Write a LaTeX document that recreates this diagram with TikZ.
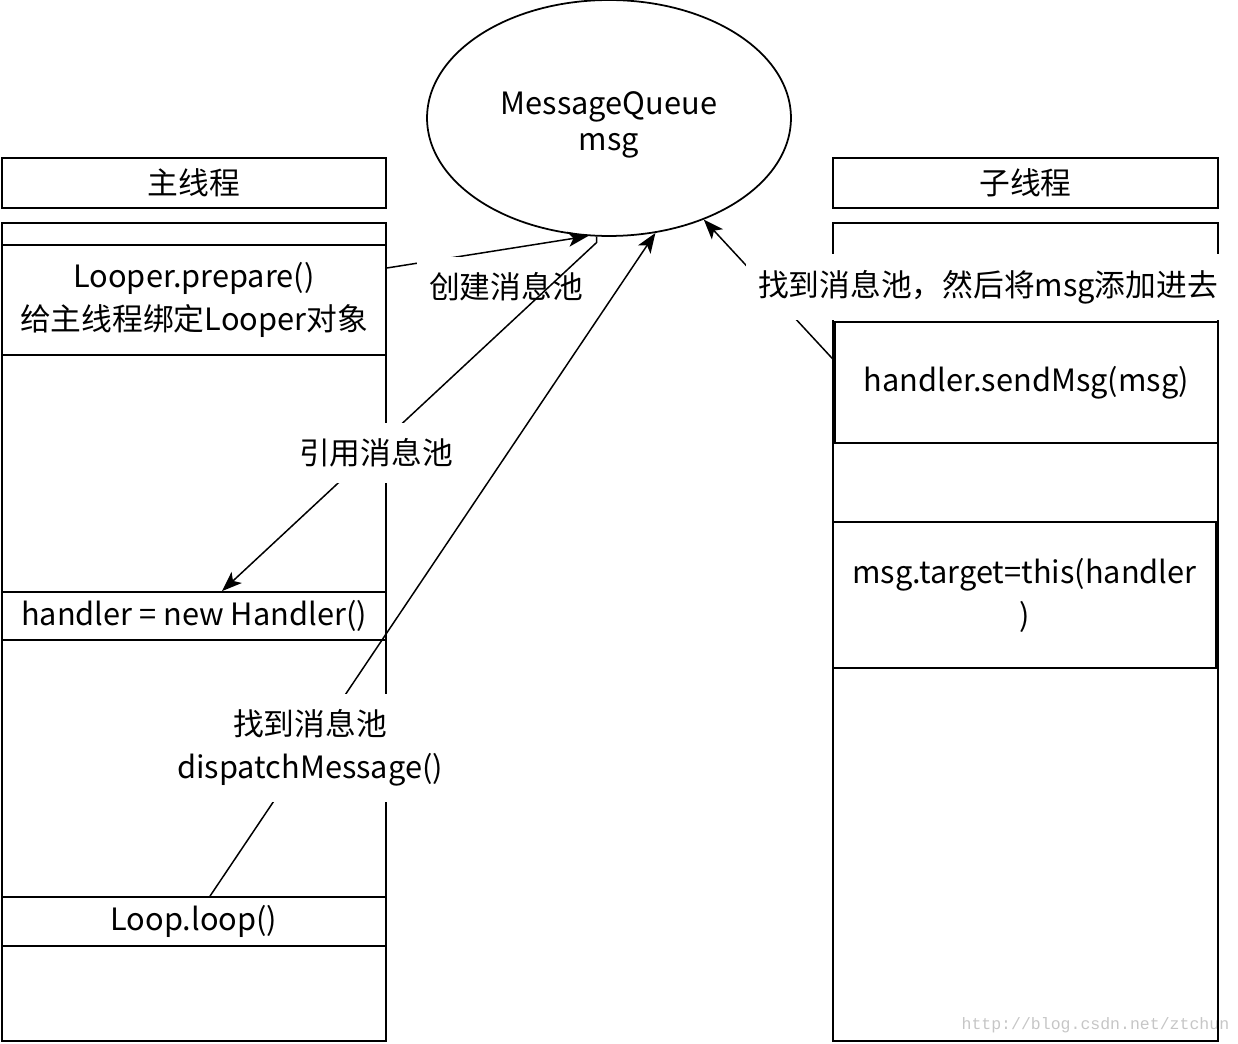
\documentclass[tikz,border=0pt]{standalone}
\usepackage{fontspec}
\setmainfont{Noto Sans CJK SC}
\newfontfamily\urlfont{Liberation Mono}
\usetikzlibrary{shapes.geometric,arrows.meta,positioning}
\tikzset{col box/.style={rectangle,draw,line width=1pt,minimum width=7.68cm,inner sep=0pt},
         head box/.style={col box,minimum height=1cm},
         block/.style={rectangle,draw,line width=1pt,minimum width=7.66cm,inner sep=0pt,align=center},
         queue/.style={ellipse,draw,line width=1pt,minimum width=7.28cm,minimum height=4.72cm,inner sep=0pt,align=center},
         edge label/.style={rectangle,draw=none,fill=white,inner xsep=0.24cm,inner ysep=0.32cm,align=center}
}

\begin{document}
\begin{tikzpicture}[x=0.02cm,y=-0.02cm,
->,>={Stealth[length=4mm,width=3mm,inset=1mm]},
line width=0.85pt,
font=\fontsize{17.5pt}{24.5pt}\selectfont]
\useasboundingbox (0,0) rectangle (1238,1044);
\node[text=gray!45,anchor=west,font=\urlfont\fontsize{9.4pt}{11pt}\selectfont] (wm) at (955,1025) {http://blog.csdn.net/ztchun};
% message queue
\node[queue,label={[align=center,yshift=-0.14cm,font=\fontsize{17.5pt}{20.5pt}\selectfont]center:MessageQueue\\msg}] (mq) at (609,118) {};
% main thread
\node[head box] (mainhead) at (194,183) {主线程};
\node[col box,minimum height=16.36cm] (maincol) at (194,632) {};
\node[block,minimum width=7.68cm,minimum height=2.2cm] (looper) at (194,300) {Looper.prepare()\\给主线程绑定Looper对象};
\node[block,minimum width=7.68cm,minimum height=0.96cm] (handler) at (194,616) {handler = new Handler()};
\node[block,minimum width=7.68cm,minimum height=0.98cm] (loop) at (194,921.5) {Loop.loop()};
% sub thread
\node[head box,minimum width=7.7cm] (subhead) at (1025.5,183) {子线程};
\node[col box,minimum width=7.7cm,minimum height=16.36cm] (subcol) at (1025.5,632) {};
\node[block,minimum height=2.42cm] (send) at (1026.5,382.5) {handler.sendMsg(msg)};
\node[block,minimum height=2.92cm] (target) at (1024.5,595) {msg.target=this(handler\\)};
% connectors
\draw ([yshift=0.64cm]looper.east) -- (mq.260);
\node[edge label] (create) at (506,287) {创建消息池};
\draw (mq.264) -- ++(0,6) -- ([xshift=0.56cm]handler.north);
\node[edge label] (refer) at (376,453) {引用消息池};
\draw ([xshift=0.32cm]loop.north) -- (mq.292);
\node[edge label] (dispatch) at (310,748) {找到消息池\\dispatchMessage()};
\draw ([yshift=0.44cm]send.west) -- (mq.313);
\node[edge label] (find) at (988,287) {找到消息池，然后将msg添加进去};
\end{tikzpicture}
\end{document}
